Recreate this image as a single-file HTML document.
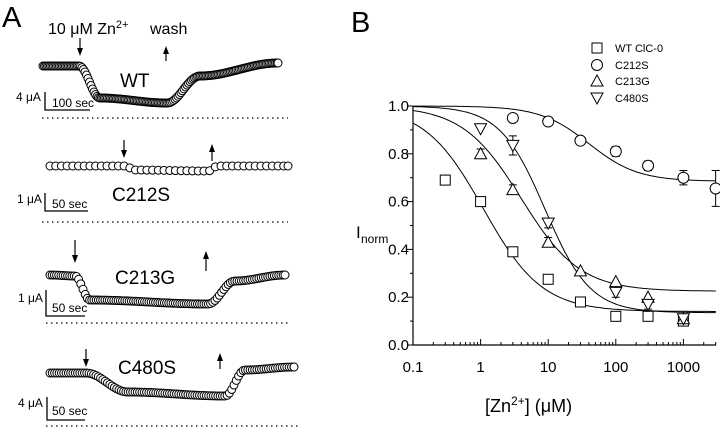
<!DOCTYPE html>
<html><head><meta charset="utf-8"><style>
body{margin:0;background:#fff;width:720px;height:429px;overflow:hidden}
svg{font-family:"Liberation Sans",sans-serif}
</style></head><body>
<svg id="s" width="720" height="429" xmlns="http://www.w3.org/2000/svg">
<text x="2" y="27" font-size="29">A</text>
<text x="351" y="32" font-size="29">B</text>
<text x="48" y="34" font-size="16">10 μM Zn<tspan dy="-6" font-size="11">2+</tspan></text>
<text x="150" y="34" font-size="16">wash</text>
<g font-size="19">
<text x="120" y="87">WT</text>
<text x="112" y="201">C212S</text>
<text x="115" y="284">C213G</text>
<text x="118" y="374">C480S</text>
</g>
<g font-size="12">
<text x="16" y="101">4 μA</text><text x="52" y="107">100 sec</text>
<text x="17" y="203">1 μA</text><text x="52" y="208">50 sec</text>
<text x="18" y="302">1 μA</text><text x="52" y="312">50 sec</text>
<text x="18" y="407">4 μA</text><text x="52" y="415">50 sec</text>
</g>
<g stroke="#000" stroke-width="1.3" fill="none">
<path d="M45,92 V110 H90"/><path d="M45,193 V211 H88"/><path d="M46,290 V316 H85"/><path d="M47,397 V420 H85"/>
</g>
<g stroke="#000" stroke-width="1.2" stroke-dasharray="1.5 3.5">
<line x1="42" y1="118" x2="288" y2="118"/><line x1="42" y1="222" x2="288" y2="222"/>
<line x1="46" y1="323" x2="288" y2="323"/><line x1="46" y1="426" x2="298" y2="426"/>
</g>
<g id="tr" fill="#fff" stroke="#000" stroke-width="1"></g>
<g id="B" fill="none" stroke="#000" stroke-width="1"></g>
</svg>
<script>
var NS="http://www.w3.org/2000/svg",s=document.getElementById('s'),tr=document.getElementById('tr'),B=document.getElementById('B');
function el(p,t,a,txt){var e=document.createElementNS(NS,t);for(var k in a)e.setAttribute(k,a[k]);if(txt)e.textContent=txt;p.appendChild(e);return e;}
function arrow(x,y1,y2){var dir=y2>y1?1:-1;el(s,'line',{x1:x,y1:y1,x2:x,y2:y2-dir*4,stroke:'#000','stroke-width':1.2});
el(s,'path',{d:'M'+(x-3)+','+(y2-dir*8)+' L'+x+','+y2+' L'+(x+3)+','+(y2-dir*8)+' Z',fill:'#000'});}
arrow(80,38,56);arrow(166,61,46);arrow(124,140,158);arrow(212,161,144);arrow(75,240,263);arrow(206,271,251);arrow(86,349,367);arrow(220,369,353);
function trace(k,step,r){var x=k[0][0],end=k[k.length-1][0];
function Y(x){for(var i=0;i<k.length-1;i++){var a=k[i],b=k[i+1];if(x<=b[0]){var t=(x-a[0])/(b[0]-a[0]);var tt=(1-Math.cos(Math.PI*t))/2;return a[1]+(b[1]-a[1])*tt;}}return k[k.length-1][1];}
for(;x<end;x+=step)el(tr,'circle',{cx:x,cy:Y(x),r:r});el(tr,'circle',{cx:end,cy:Y(end),r:r});}
trace([[43,66],[79,66],[100,98],[167,103],[200,76],[278,63]],1.5,4);
trace([[50,166],[125,166],[135,170],[208,171],[218,166],[288,166]],5.7,4);
trace([[50,275],[75,276],[90,300],[208,304],[235,281],[285,275]],2.2,4);
trace([[50,373],[86,373],[128,392],[225,396],[245,370],[294,367]],2.3,4);
var X0=413,DX=67.6,Y0=345,YS=239;
function px(v){return X0+Math.log10(v/0.1)*DX;}function py(v){return Y0-v*YS;}
el(B,'path',{d:'M'+X0+','+py(1)+' V'+Y0+' H716','stroke-width':1.2});
for(var i=0;i<=10;i++){var y=py(i/10);el(B,'line',{x1:i%2?X0-3:X0-6,y1:y,x2:X0,y2:y});}
var labs=['0.0','0.2','0.4','0.6','0.8','1.0'];
for(var i=0;i<6;i++)el(s,'text',{x:409,y:py(i*0.2)+5,'font-size':15,'text-anchor':'end'},labs[i]);
var xl=['0.1','1','10','100','1000'];
for(var d=0;d<5;d++){var x=X0+d*DX;el(B,'line',{x1:x,y1:Y0,x2:x,y2:Y0-6});el(s,'text',{x:x,y:372,'font-size':15,'text-anchor':'middle'},xl[d]);
for(var m=2;m<=9;m++){var xm=x+Math.log10(m)*DX;if(xm<716)el(B,'line',{x1:xm,y1:Y0,x2:xm,y2:Y0-3});}}
el(s,'text',{x:356,y:238,'font-size':17},'I');el(s,'text',{x:361,y:243,'font-size':12},'norm');
var t=el(s,'text',{x:485,y:412,'font-size':18},'[Zn');el(t,'tspan',{dy:-7,'font-size':12},'2+');el(t,'tspan',{dy:7},'] (μM)');
function fit(Imin,K,n){var d='';for(var i=0;i<=200;i++){var lx=-1+i*(4.48/200),v=Math.pow(10,lx);var y=Imin+(1-Imin)/(1+Math.pow(v/K,n));d+=(i?'L':'M')+px(v).toFixed(1)+','+py(y).toFixed(1);}el(B,'path',{d:d});}
fit(.14,1.1,1);fit(.225,4,1);fit(.135,9,1.3);fit(.685,40,1.2);
function sym(k,x,y){var r=5;if(k==0)el(B,'rect',{x:x-r,y:y-r,width:2*r,height:2*r,fill:'#fff'});
else if(k==1)el(B,'circle',{cx:x,cy:y,r:r+0.5,fill:'#fff'});
else if(k==2)el(B,'path',{d:'M'+x+','+(y-6)+' L'+(x+6)+','+(y+5)+' L'+(x-6)+','+(y+5)+'Z',fill:'#fff'});
else el(B,'path',{d:'M'+x+','+(y+6)+' L'+(x+6)+','+(y-5)+' L'+(x-6)+','+(y-5)+'Z',fill:'#fff'});}
var data=[
[[.3,.69,.02],[1,.6],[3,.39],[10,.275],[30,.18],[100,.12],[300,.12],[1000,.1]],
[[3,.95],[10,.935],[30,.855],[100,.81,.02],[300,.75,.02],[1000,.70,.03],[3000,.655,.075]],
[[1,.80,.02],[3,.65,.02],[10,.43,.02],[30,.31],[100,.265],[300,.20],[1000,.11]],
[[1,.905],[3,.835,.04],[10,.51,.02],[100,.22,.02],[300,.17,.02],[1000,.11]]];
for(var k=0;k<4;k++)data[k].forEach(function(p){var x=px(p[0]),y=py(p[1]);if(p[2]){var e=p[2]*YS;el(B,'path',{d:'M'+x+','+(y-e)+'V'+(y+e)+'M'+(x-4)+','+(y-e)+'h8M'+(x-4)+','+(y+e)+'h8'});}sym(k,x,y);});
var ln=['WT ClC-0','C212S','C213G','C480S'],ly=[48,65,81,98];
for(var k=0;k<4;k++){sym(k,597,ly[k]);el(s,'text',{x:615,y:ly[k]+4,'font-size':11},ln[k]);}
</script>
</body></html>
